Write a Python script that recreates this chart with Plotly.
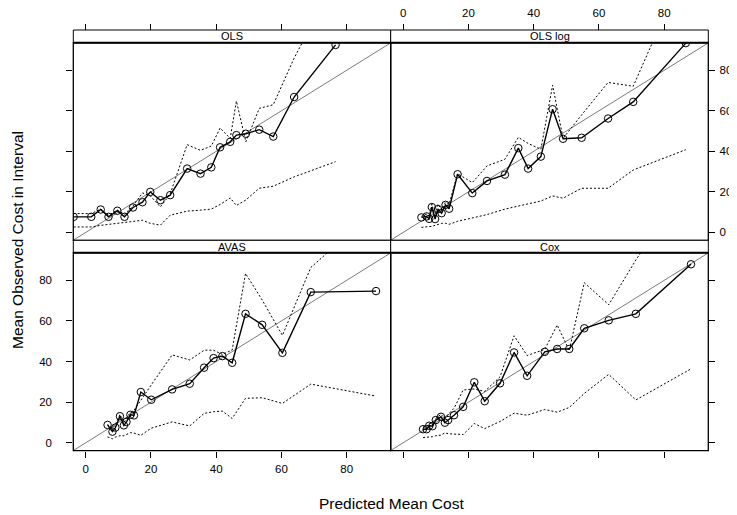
import plotly.graph_objects as go

# ---------------- data ----------------
panel_titles = ["OLS", "OLS log", "AVAS", "Cox"]
tick_vals = [0, 20, 40, 60, 80]
identity_line = [-20, 140]

ols_x = [-3.7, 1.7, 4.6, 7.0, 9.7, 11.9, 14.5, 17.4, 19.8, 22.9, 25.9, 31.1, 35.2, 38.5, 41.2, 44.3, 46.2, 49.1, 53.2, 57.5, 63.9, 76.6]
ols_y = [7.7, 7.7, 11.3, 7.7, 10.7, 7.7, 12.3, 14.9, 20.0, 15.9, 18.4, 31.5, 29.0, 32.1, 42.0, 44.7, 48.0, 48.7, 50.7, 47.3, 66.8, 92.5]
ols_up = [9.3, 9.3, 11.5, 8.5, 11.0, 9.0, 13.0, 19.5, 18.0, 12.6, 19.0, 43.3, 40.5, 42.6, 51.5, 46.4, 64.8, 44.7, 61.2, 63.0, 86.0, 125.0]
ols_lo = [2.7, 2.7, 3.5, 4.0, 4.5, 5.0, 5.5, 6.0, 4.5, 3.6, 8.5, 10.5, 11.0, 11.5, 13.8, 17.0, 13.3, 16.0, 21.8, 22.8, 27.4, 34.9]

olslog_x = [5.6, 7.2, 8.0, 8.8, 9.8, 10.7, 11.8, 13.0, 14.1, 16.7, 21.2, 25.7, 31.2, 35.3, 38.3, 42.2, 45.8, 49.0, 54.7, 62.8, 70.5, 86.6]
olslog_y = [7.4, 7.9, 6.7, 12.5, 6.6, 11.5, 9.5, 13.6, 11.7, 28.7, 19.4, 25.4, 28.5, 41.6, 31.5, 37.4, 60.8, 46.2, 46.7, 56.2, 64.4, 93.4]
olslog_up = [8.0, 9.0, 8.0, 14.0, 8.0, 14.0, 11.0, 15.0, 14.0, 29.0, 24.6, 32.8, 36.1, 46.9, 43.9, 41.0, 72.6, 46.4, 58.0, 74.0, 72.1, 131.0]
olslog_lo = [2.5, 2.6, 2.8, 3.0, 3.5, 4.0, 4.5, 4.5, 4.0, 5.5, 7.1, 8.8, 11.5, 12.8, 14.1, 15.5, 18.0, 16.9, 21.8, 21.8, 30.8, 40.8]

avas_x = [6.7, 8.2, 9.1, 10.5, 11.7, 12.5, 13.7, 14.8, 16.9, 20.1, 26.5, 31.9, 36.3, 39.2, 41.9, 44.9, 49.0, 54.1, 60.3, 69.0, 89.0]
avas_y = [8.8, 5.5, 7.5, 13.1, 8.6, 10.3, 13.8, 13.5, 25.0, 21.2, 26.3, 29.1, 37.0, 41.7, 42.7, 39.4, 63.5, 58.1, 44.3, 74.2, 74.7]
avas_up = [9.0, 7.0, 9.0, 14.0, 10.0, 12.0, 15.0, 16.0, 20.7, 28.5, 43.3, 40.8, 45.6, 45.6, 43.5, 45.7, 83.4, 70.3, 52.9, 86.3, 115.0]
avas_lo = [2.9, 2.0, 2.8, 3.5, 3.5, 4.0, 5.0, 4.8, 3.7, 7.2, 10.3, 8.3, 14.5, 15.3, 15.6, 12.0, 21.9, 22.2, 19.4, 28.9, 23.0]

cox_x = [6.1, 7.2, 8.0, 9.0, 10.0, 11.6, 12.8, 13.8, 15.6, 18.4, 21.8, 25.0, 29.7, 34.0, 38.0, 43.4, 47.2, 50.9, 55.5, 63.0, 71.3, 88.2]
cox_y = [6.7, 6.7, 8.4, 8.2, 11.2, 12.8, 9.9, 11.2, 13.6, 17.7, 29.8, 20.5, 29.3, 44.5, 33.0, 44.8, 46.2, 46.2, 56.4, 60.3, 63.5, 87.9]
cox_up = [7.5, 8.0, 9.5, 10.0, 12.0, 14.0, 12.0, 14.0, 17.0, 26.0, 26.5, 25.3, 32.5, 52.7, 43.0, 46.0, 58.0, 45.5, 78.8, 68.0, 90.0, 130.0]
cox_lo = [2.6, 2.7, 2.8, 3.0, 3.5, 3.8, 4.9, 4.5, 4.3, 4.1, 9.5, 7.0, 10.5, 14.6, 13.6, 16.4, 15.1, 17.4, 24.3, 33.7, 21.1, 36.4]

series = [
    (ols_x, ols_y, ols_up, ols_lo),
    (olslog_x, olslog_y, olslog_up, olslog_lo),
    (avas_x, avas_y, avas_up, avas_lo),
    (cox_x, cox_y, cox_up, cox_lo),
]

# ---------------- geometry (page pixels) ----------------
OFF = 8                      # default body margin of the html page
W, H = 737 - OFF, 515 - OFF  # figure size
X_RANGE = [-3.8, 93.5]
Y_RANGE = [-3.88, 93.6]
cols = [(73.3, 390.7), (390.7, 708.3)]
rows = [(42.7, 240.3), (252.7, 450.7)]   # plot areas (top, bottom), page px from top
strips = [(30.0, 42.7), (240.3, 252.7)]

def fx(px):
    return (px - OFF) / W

def fy(py):
    return 1 - (py - OFF) / H

FONT = "Liberation Sans, Arial, Helvetica, sans-serif"
TICK_SIZE = 11.5
TITLE_SIZE = 15.5
STRIP_SIZE = 11

fig = go.Figure()
layout = dict(
    width=W, height=H, margin=dict(l=0, r=0, t=0, b=0),
    paper_bgcolor="white", plot_bgcolor="white", showlegend=False,
    font=dict(family=FONT, size=10, color="black"),
)

shapes = []
annotations = []
for i in range(4):
    r, c = divmod(i, 2)
    n = i + 1
    xa = "x" if n == 1 else f"x{n}"
    ya = "y" if n == 1 else f"y{n}"
    xkey = "xaxis" if n == 1 else f"xaxis{n}"
    ykey = "yaxis" if n == 1 else f"yaxis{n}"
    x0, x1 = cols[c]
    y0, y1 = rows[r]

    xax = dict(domain=[fx(x0), fx(x1)], range=X_RANGE, tickvals=tick_vals,
               ticks="outside", ticklen=6, tickwidth=1, tickcolor="black",
               showgrid=False, zeroline=False, showline=False,
               tickfont=dict(size=TICK_SIZE, color="black"))
    yax = dict(domain=[fy(y1), fy(y0)], range=Y_RANGE, tickvals=tick_vals,
               ticks="outside", ticklen=6, tickwidth=1, tickcolor="black",
               showgrid=False, zeroline=False, showline=False,
               tickfont=dict(size=TICK_SIZE, color="black"))
    if r == 0:
        xax.update(anchor="free", position=fy(strips[0][0]), side="top",
                   showticklabels=(c == 1), ticklabelstandoff=2)
    else:
        xax.update(anchor=ya, side="bottom", showticklabels=(c == 0),
                   ticklabelstandoff=1)
    yax.update(anchor=xa, side="left" if c == 0 else "right")
    if (r == 0 and c == 1) or (r == 1 and c == 0):
        yax.update(showticklabels=True, ticklabelstandoff=12 if c == 0 else 2)
    else:
        yax.update(showticklabels=False)
    layout[xkey] = xax
    layout[ykey] = yax

    sx, sy, sup, slo = series[i]
    fig.add_trace(go.Scatter(x=identity_line, y=identity_line, mode="lines",
                             line=dict(color="#7a7a7a", width=1),
                             xaxis=xa, yaxis=ya, hoverinfo="skip"))
    for band in (sup, slo):
        fig.add_trace(go.Scatter(x=sx, y=band, mode="lines",
                                 line=dict(color="black", width=1, dash="2px,2px"),
                                 xaxis=xa, yaxis=ya))
    fig.add_trace(go.Scatter(x=sx, y=sy, mode="lines+markers",
                             line=dict(color="black", width=1.4),
                             marker=dict(symbol="circle-open", size=7.5, color="black",
                                         line=dict(width=1)),
                             xaxis=xa, yaxis=ya))

    # strip
    s0, s1 = strips[r]
    shapes.append(dict(type="rect", xref="paper", yref="paper",
                       x0=fx(x0), x1=fx(x1), y0=fy(s1), y1=fy(s0),
                       line=dict(color="black", width=1), fillcolor="white",
                       layer="above"))
    annotations.append(dict(text=panel_titles[i], xref="paper", yref="paper",
                            x=fx((x0 + x1) / 2), y=fy((s0 + s1) / 2),
                            xanchor="center", yanchor="middle", showarrow=False,
                            font=dict(size=STRIP_SIZE, family=FONT, color="black")))
    # panel frame
    shapes.append(dict(type="rect", xref="paper", yref="paper",
                       x0=fx(x0), x1=fx(x1), y0=fy(y1), y1=fy(y0),
                       line=dict(color="black", width=1.3), layer="above"))
    # thicker line under strip
    shapes.append(dict(type="line", xref="paper", yref="paper",
                       x0=fx(x0), x1=fx(x1), y0=fy(s1), y1=fy(s1),
                       line=dict(color="black", width=2), layer="above"))

annotations.append(dict(text="Predicted Mean Cost", xref="paper", yref="paper",
                        x=fx(391), y=fy(503), xanchor="center", yanchor="middle",
                        showarrow=False, font=dict(size=TITLE_SIZE, family=FONT, color="black")))
annotations.append(dict(text="Mean Observed Cost in Interval", xref="paper", yref="paper",
                        x=fx(17), y=fy(240), xanchor="center", yanchor="middle",
                        textangle=-90, showarrow=False,
                        font=dict(size=TITLE_SIZE, family=FONT, color="black")))

layout["shapes"] = shapes
layout["annotations"] = annotations
fig.update_layout(**layout)
fig.write_html("out.html")
